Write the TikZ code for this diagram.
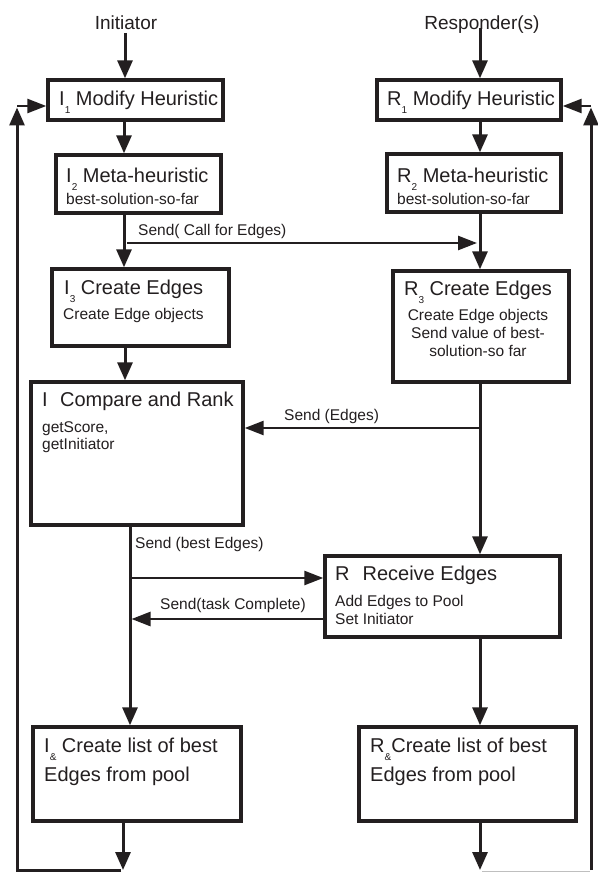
\documentclass[tikz,border=0pt]{standalone}
\usepackage{fontspec}
\setmainfont{Liberation Sans}
\usetikzlibrary{arrows.meta}
\definecolor{ink}{RGB}{35,31,32}
\newcommand{\bigtxt}{\fontsize{20}{24}\selectfont}
\newcommand{\midtxt}{\fontsize{15.5}{18}\selectfont}
\newcommand{\subtxt}[1]{\raisebox{-0.4em}{\fontsize{10}{10}\selectfont #1}}
\begin{document}
\begin{tikzpicture}[x=1pt,y=-1pt,
  box/.style={draw=ink,line width=3.4pt,fill=white,inner sep=0pt,rectangle},
  lab/.style={anchor=base west,inner sep=0pt,text=ink},
  clab/.style={anchor=base,inner sep=0pt,text=ink,align=center},
  con/.style={draw=ink,line width=3pt},
  arr/.style={con,-{Triangle[length=18pt,width=15pt]}},
  harr/.style={con,line width=2.6pt,-{Triangle[length=19pt,width=14pt]}}]
\useasboundingbox (0,0) rectangle (597,872);
\fill[white] (0,0) rectangle (597,872);

% boxes
\node[box,minimum width=175pt,minimum height=40pt] (I1) at (135.5,100) {};
\node[box,minimum width=165pt,minimum height=58pt] (I2) at (138.5,184) {};
\node[box,minimum width=177pt,minimum height=77pt] (I3) at (140.5,307.5) {};
\node[box,minimum width=212pt,minimum height=143pt] (I4) at (137,453.5) {};
\node[box,minimum width=208pt,minimum height=94pt] (I5) at (137,774) {};
\node[box,minimum width=184pt,minimum height=40pt] (R1) at (469,100) {};
\node[box,minimum width=174pt,minimum height=58pt] (R2) at (474,183) {};
\node[box,minimum width=176pt,minimum height=111pt] (R3) at (481,326.5) {};
\node[box,minimum width=235pt,minimum height=81pt] (R5) at (442.5,596.5) {};
\node[box,minimum width=217pt,minimum height=94pt] (R6) at (467.5,774) {};

% headings
\node[clab,font=\fontsize{19}{22}\selectfont] (tI) at (126,30) {Initiator};
\node[clab,font=\fontsize{19}{22}\selectfont] (tR) at (482,30) {Responder(s)};

% box texts
\node[lab,font=\bigtxt] (I1t) at (59,106) {I\subtxt{1} Modify Heuristic};
\node[lab,font=\bigtxt] (R1t) at (387,106) {R\subtxt{1} Modify Heuristic};
\node[lab,font=\bigtxt] (I2t) at (66,182) {I\subtxt{2} Meta-heuristic};
\node[lab,font=\midtxt] (I2s) at (66,204) {best-solution-so-far};
\node[lab,font=\bigtxt] (R2t) at (397,182) {R\subtxt{2} Meta-heuristic};
\node[lab,font=\midtxt] (R2s) at (397,204) {best-solution-so-far};
\node[lab,font=\bigtxt] (I3t) at (64,294) {I\subtxt{3} Create Edges};
\node[lab,font=\midtxt] (I3s) at (63,319) {Create Edge objects};
\node[clab,font=\bigtxt] (R3t) at (478,295) {R\subtxt{3} Create Edges};
\node[clab,font=\midtxt] (R3s1) at (478,320) {Create Edge objects};
\node[clab,font=\midtxt] (R3s2) at (478,338) {Send value of best-};
\node[clab,font=\midtxt] (R3s3) at (478,356) {solution-so far};
\node[lab,font=\bigtxt] (I4t) at (42,406) {I\hspace{0.62em}Compare and Rank};
\node[lab,font=\midtxt] (I4s1) at (42,432) {getScore,};
\node[lab,font=\midtxt] (I4s2) at (42,449) {getInitiator};
\node[lab,font=\bigtxt] (R5t) at (335,580) {R\hspace{0.65em}Receive Edges};
\node[lab,font=\midtxt] (R5s1) at (335,606) {Add Edges to Pool};
\node[lab,font=\midtxt] (R5s2) at (335,624) {Set Initiator};
\node[lab,font=\bigtxt] (I5t) at (44,752) {I\subtxt{\&} Create list of best};
\node[lab,font=\bigtxt] (I5s) at (44,781) {Edges from pool};
\node[lab,font=\bigtxt] (R6t) at (370,752) {R\subtxt{\&}Create list of best};
\node[lab,font=\bigtxt] (R6s) at (370,781) {Edges from pool};

% connector labels
\node[lab,font=\midtxt] (l1) at (138,235) {Send( Call for Edges)};
\node[lab,font=\midtxt] (l2) at (284,420) {Send (Edges)};
\node[lab,font=\midtxt] (l3) at (135,548) {Send (best Edges)};
\node[lab,font=\midtxt] (l4) at (160,609) {Send(task Complete)};

% column coordinates
\coordinate (cI) at (124,0);
\coordinate (cI2) at (130,0);
\coordinate (cI3) at (123,0);
\coordinate (cR) at (480,0);
\coordinate (hS) at (0,243);
\coordinate (hE) at (0,428);
\coordinate (hB) at (0,578);
\coordinate (hT) at (0,619);
\coordinate (bot) at (0,870);
\coordinate (cL) at (17,106);
\coordinate (cRR) at (591,106);
\coordinate (bL) at (17,870);
\coordinate (bR) at (591,870);

% left column
\draw[arr] (125,33) coordinate (sI) -- (I1.north -| sI);
\draw[arr] (I1.south -| cI) -- (I2.north -| cI);
\draw[arr] (I2.south -| cI) -- (I3.north -| cI);
\draw[arr] (I3.south -| 125,0) -- (I4.north -| 125,0);
\draw[arr] (I4.south -| cI2) -- (I5.north -| cI2);
\draw[arr] (I5.south -| cI3) -- (cI3 |- bot);

% right column
\draw[arr] (480,28) coordinate (sR) -- (R1.north -| sR);
\draw[arr] (R1.south -| cR) -- (R2.north -| cR);
\draw[arr] (R2.south -| cR) -- (R3.north -| cR);
\draw[arr] (R3.south -| cR) -- (R5.north -| cR);
\draw[arr] (R5.south -| cR) -- (R6.north -| cR);
\draw[arr] (R6.south -| cR) -- (cR |- bot);

% messages
\draw[harr] (127,243) -- (477,243);
\draw[harr] (cR |- hE) -- (I4.east |- hE);
\draw[harr] (cI2 |- hB) -- (R5.west |- hB);
\draw[harr] (R5.west |- hT) -- (131.5,619);

% feedback loops
\draw[con,-{Triangle[length=18pt,width=15pt]}] (121,870) -- (bL) -- (17,107.5);
\draw[harr] (cL) -- (I1.west |- cL);
\draw[con,-{Triangle[length=18pt,width=15pt]}] (bR) -- (591,107.5);
\draw[harr] (cRR) -- (R1.east |- cRR);
\draw[black!25,line width=1pt] (482,871.5) -- (590,871.5);
\end{tikzpicture}
\end{document}
